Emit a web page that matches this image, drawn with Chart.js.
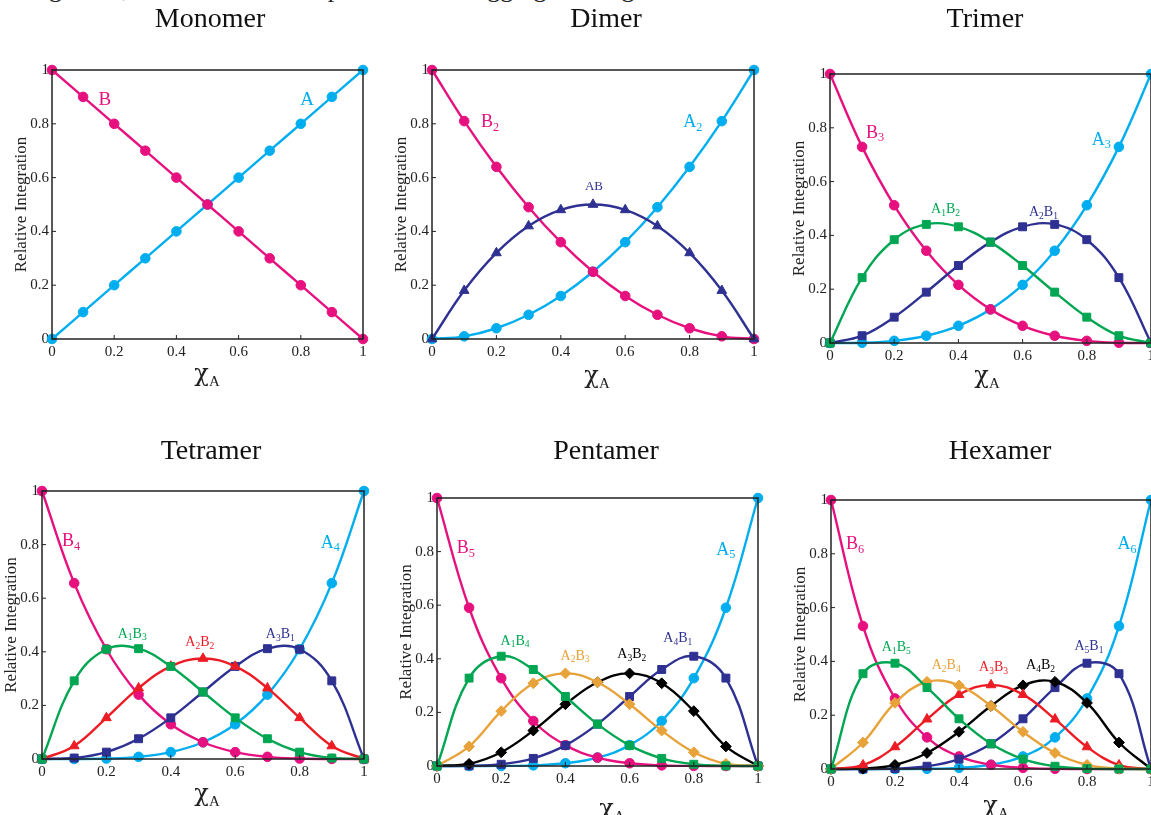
<!DOCTYPE html>
<html>
<head>
<meta charset="utf-8">
<script src="https://cdn.jsdelivr.net/npm/chart.js@4.4.1/dist/chart.umd.min.js"></script>
<style>
  html, body { margin: 0; padding: 0; background: #fff; }
  body { width: 1151px; height: 815px; overflow: hidden; position: relative; }
  canvas { position: absolute; left: 0; top: 0; }
  .lead { position: absolute; left: 0; top: -24px; font: 26px "Liberation Serif", serif; color: #222; white-space: nowrap; line-height: 1; }
</style>
</head>
<body>
<div class="lead">Using VT-1, the calculated Job plots for each aggregate are given.</div>
<canvas id="c1" width="1200" height="815"></canvas>
<canvas id="c2" width="1200" height="815"></canvas>
<canvas id="c3" width="1200" height="815"></canvas>
<canvas id="c4" width="1200" height="815"></canvas>
<canvas id="c5" width="1200" height="815"></canvas>
<canvas id="c6" width="1200" height="815"></canvas>
<script>
// mole fraction of A at which each composition is sampled
const moleFractionA = [0, 0.1, 0.2, 0.3, 0.4, 0.5, 0.6, 0.7, 0.8, 0.9, 1];
const axisTicks = [0, 0.2, 0.4, 0.6, 0.8, 1];
const axisTickLabels = ['0', '0.2', '0.4', '0.6', '0.8', '1'];

// Monomer
const monoA = [0, 0.1, 0.2, 0.3, 0.4, 0.5, 0.6, 0.7, 0.8, 0.9, 1];
const monoB = [1, 0.9, 0.8, 0.7, 0.6, 0.5, 0.4, 0.3, 0.2, 0.1, 0];

// Dimer
const diA2 = [0, 0.01, 0.04, 0.09, 0.16, 0.25, 0.36, 0.49, 0.64, 0.81, 1];
const diAB = [0, 0.18, 0.32, 0.42, 0.48, 0.5, 0.48, 0.42, 0.32, 0.18, 0];
const diB2 = [1, 0.81, 0.64, 0.49, 0.36, 0.25, 0.16, 0.09, 0.04, 0.01, 0];

// Trimer
const triA3 = [0, 0.001, 0.008, 0.027, 0.064, 0.125, 0.216, 0.343, 0.512, 0.729, 1];
const triA2B1 = [0, 0.027, 0.096, 0.189, 0.288, 0.375, 0.432, 0.441, 0.384, 0.243, 0];
const triA1B2 = [0, 0.243, 0.384, 0.441, 0.432, 0.375, 0.288, 0.189, 0.096, 0.027, 0];
const triB3 = [1, 0.729, 0.512, 0.343, 0.216, 0.125, 0.064, 0.027, 0.008, 0.001, 0];

// Tetramer
const tetA4 = [0, 0.0001, 0.0016, 0.0081, 0.0256, 0.0625, 0.1296, 0.2401, 0.4096, 0.6561, 1];
const tetA3B1 = [0, 0.0036, 0.0256, 0.0756, 0.1536, 0.25, 0.3456, 0.4116, 0.4096, 0.2916, 0];
const tetA2B2 = [0, 0.0486, 0.1536, 0.2646, 0.3456, 0.375, 0.3456, 0.2646, 0.1536, 0.0486, 0];
const tetA1B3 = [0, 0.2916, 0.4096, 0.4116, 0.3456, 0.25, 0.1536, 0.0756, 0.0256, 0.0036, 0];
const tetB4 = [1, 0.6561, 0.4096, 0.2401, 0.1296, 0.0625, 0.0256, 0.0081, 0.0016, 0.0001, 0];

// Pentamer
const penA5 = [0, 0.00001, 0.00032, 0.00243, 0.01024, 0.03125, 0.07776, 0.16807, 0.32768, 0.59049, 1];
const penA4B1 = [0, 0.00045, 0.0064, 0.02835, 0.0768, 0.15625, 0.2592, 0.36015, 0.4096, 0.32805, 0];
const penA3B2 = [0, 0.0081, 0.0512, 0.1323, 0.2304, 0.3125, 0.3456, 0.3087, 0.2048, 0.0729, 0];
const penA2B3 = [0, 0.0729, 0.2048, 0.3087, 0.3456, 0.3125, 0.2304, 0.1323, 0.0512, 0.0081, 0];
const penA1B4 = [0, 0.32805, 0.4096, 0.36015, 0.2592, 0.15625, 0.0768, 0.02835, 0.0064, 0.00045, 0];
const penB5 = [1, 0.59049, 0.32768, 0.16807, 0.07776, 0.03125, 0.01024, 0.00243, 0.00032, 0.00001, 0];

// Hexamer
const hexA6 = [0, 0.000001, 0.000064, 0.000729, 0.004096, 0.015625, 0.046656, 0.117649, 0.262144, 0.531441, 1];
const hexA5B1 = [0, 0.000054, 0.001536, 0.010206, 0.036864, 0.09375, 0.186624, 0.302526, 0.393216, 0.354294, 0];
const hexA4B2 = [0, 0.001215, 0.01536, 0.059535, 0.13824, 0.234375, 0.31104, 0.324135, 0.24576, 0.098415, 0];
const hexA3B3 = [0, 0.01458, 0.08192, 0.18522, 0.27648, 0.3125, 0.27648, 0.18522, 0.08192, 0.01458, 0];
const hexA2B4 = [0, 0.098415, 0.24576, 0.324135, 0.31104, 0.234375, 0.13824, 0.059535, 0.01536, 0.001215, 0];
const hexA1B5 = [0, 0.354294, 0.393216, 0.302526, 0.186624, 0.09375, 0.036864, 0.010206, 0.001536, 0.000054, 0];
const hexB6 = [1, 0.531441, 0.262144, 0.117649, 0.046656, 0.015625, 0.004096, 0.000729, 0.000064, 0.000001, 0];

// ---- styling ----
const SERIF = '"Liberation Serif", "DejaVu Serif", serif';
const GREEK = '"DejaVu Serif", serif';
const INK = '#222222';
const CANVAS_W = 1200, CANVAS_H = 815;
const PINK = '#E6117F', CYAN = '#00AEEF', NAVY = '#2E3192', GREEN = '#00A651',
      RED = '#ED1C24', GOLD = '#E8A23A', BLACK = '#000000';

const markerStyle = {
  circle:   { pointStyle: 'circle',   pointRadius: 4.8 },
  square:   { pointStyle: 'rect',     pointRadius: 5.6 },
  triangle: { pointStyle: 'triangle', pointRadius: 5.6 },
  diamond:  { pointStyle: 'rectRot',  pointRadius: 5.4 }
};

function series(values, color, marker) {
  return Object.assign({
    data: values.map((v, i) => ({ x: moleFractionA[i], y: v })),
    borderColor: color,
    backgroundColor: color,
    pointBackgroundColor: color,
    pointBorderColor: color,
    pointBorderWidth: 1,
    borderWidth: 2.4,
    tension: 0.4,
    clip: false,
    fill: false
  }, markerStyle[marker]);
}

// text with "_x" marking a subscript character, centred on (cx, cy)
function richText(ctx, str, cx, cy, size, color, subRatio, mainFamily) {
  const segs = [];
  for (let i = 0; i < str.length; i++) {
    if (str[i] === '_') { segs.push({ t: str[i + 1], sub: true }); i++; }
    else segs.push({ t: str[i], sub: false });
  }
  const subSize = size * (subRatio || 0.68);
  const fontOf = (s) => s.sub ? subSize + 'px ' + SERIF : size + 'px ' + (mainFamily || SERIF);
  let w = 0;
  segs.forEach(s => {
    ctx.font = fontOf(s);
    s.w = ctx.measureText(s.t).width;
    w += s.w;
  });
  let x = cx - w / 2;
  const base = cy + size * 0.33;
  ctx.fillStyle = color;
  ctx.textAlign = 'left';
  ctx.textBaseline = 'alphabetic';
  segs.forEach(s => {
    ctx.font = fontOf(s);
    ctx.fillText(s.t, x, s.sub ? base + size * 0.2 : base);
    x += s.w;
  });
}

function decorations(panel) {
  return {
    id: 'panelDecor',
    afterDatasetsDraw(chart) {
      const { ctx, chartArea: a, scales } = chart;
      ctx.save();
      // frame
      ctx.strokeStyle = INK;
      ctx.lineWidth = 1.5;
      ctx.strokeRect(a.left, a.top, a.right - a.left, a.bottom - a.top);
      // inward tick marks
      ctx.lineWidth = 1;
      axisTicks.forEach(v => {
        const px = scales.x.getPixelForValue(v);
        const py = scales.y.getPixelForValue(v);
        ctx.beginPath();
        ctx.moveTo(px, a.bottom); ctx.lineTo(px, a.bottom - 4);
        ctx.moveTo(a.left, py); ctx.lineTo(a.left + 4, py);
        ctx.stroke();
      });
      // panel title
      ctx.fillStyle = '#111';
      ctx.font = '28px ' + SERIF;
      ctx.textAlign = 'center';
      ctx.textBaseline = 'middle';
      ctx.fillText(panel.title, panel.titleAt[0], panel.titleAt[1]);
      // y-axis title
      ctx.save();
      ctx.translate(a.left - 30, (a.top + a.bottom) / 2);
      ctx.rotate(-Math.PI / 2);
      ctx.font = '17px ' + SERIF;
      ctx.fillStyle = INK;
      ctx.textAlign = 'center';
      ctx.textBaseline = 'middle';
      ctx.fillText('Relative Integration', 0, 0);
      ctx.restore();
      // x-axis title
      richText(ctx, 'χ_A', panel.xTitleAt[0], panel.xTitleAt[1], 24, INK, 0.62, GREEK);
      // series labels
      panel.labels.forEach(l => {
        richText(ctx, l.text, scales.x.getPixelForValue(l.x), scales.y.getPixelForValue(l.y), l.size, l.color);
      });
      ctx.restore();
    }
  };
}

const tickFormat = (v) => axisTickLabels[axisTicks.indexOf(Math.round(v * 10) / 10)];

function makePanel(id, panel, datasets) {
  const [L, T, R, B] = panel.box;
  new Chart(document.getElementById(id), {
    type: 'line',
    data: { datasets },
    options: {
      responsive: false,
      animation: false,
      events: [],
      layout: { autoPadding: false, padding: { left: L - 40, top: T, right: CANVAS_W - R, bottom: CANVAS_H - B - 40 } },
      scales: {
        x: {
          type: 'linear', min: 0, max: 1,
          afterFit(s) { s.height = 40; },
          afterBuildTicks(s) { s.ticks = axisTicks.map(v => ({ value: v })); },
          grid: { display: false, drawTicks: false, tickLength: 0 }, border: { display: false },
          ticks: {
            padding: 4, maxRotation: 0, autoSkip: false, color: INK,
            font: { family: SERIF, size: 15 }, callback: tickFormat
          }
        },
        y: {
          type: 'linear', min: 0, max: 1,
          afterFit(s) { s.width = 40; },
          afterBuildTicks(s) { s.ticks = axisTicks.map(v => ({ value: v })); },
          grid: { display: false, drawTicks: false, tickLength: 0 }, border: { display: false },
          ticks: {
            padding: 3, autoSkip: false, color: INK,
            font: { family: SERIF, size: 15 }, callback: tickFormat
          }
        }
      },
      plugins: { legend: { display: false }, tooltip: { enabled: false }, title: { display: false } }
    },
    plugins: [decorations(panel)]
  });
}

makePanel('c1', {
  box: [52, 70, 363, 339], title: 'Monomer', titleAt: [210, 20], xTitleAt: [207, 373],
  labels: [
    { text: 'B', x: 0.17, y: 0.895, size: 19, color: PINK },
    { text: 'A', x: 0.82, y: 0.895, size: 19, color: CYAN }
  ]
}, [series(monoB, PINK, 'circle'), series(monoA, CYAN, 'circle')]);

makePanel('c2', {
  box: [432, 70, 754, 339], title: 'Dimer', titleAt: [606, 20], xTitleAt: [597, 375],
  labels: [
    { text: 'B_2', x: 0.18, y: 0.81, size: 18, color: PINK },
    { text: 'A_2', x: 0.81, y: 0.81, size: 18, color: CYAN },
    { text: 'AB', x: 0.503, y: 0.57, size: 13, color: NAVY }
  ]
}, [series(diAB, NAVY, 'triangle'), series(diB2, PINK, 'circle'), series(diA2, CYAN, 'circle')]);

makePanel('c3', {
  box: [830, 74, 1151, 343], title: 'Trimer', titleAt: [985, 20], xTitleAt: [987, 375],
  labels: [
    { text: 'B_3', x: 0.14, y: 0.785, size: 18, color: PINK },
    { text: 'A_3', x: 0.845, y: 0.76, size: 18, color: CYAN },
    { text: 'A_1B_2', x: 0.36, y: 0.5, size: 14, color: GREEN },
    { text: 'A_2B_1', x: 0.665, y: 0.49, size: 14, color: NAVY }
  ]
}, [series(triA1B2, GREEN, 'square'), series(triA2B1, NAVY, 'square'),
    series(triB3, PINK, 'circle'), series(triA3, CYAN, 'circle')]);

makePanel('c4', {
  box: [42, 491, 364, 759], title: 'Tetramer', titleAt: [211, 452], xTitleAt: [207, 793],
  labels: [
    { text: 'B_4', x: 0.09, y: 0.817, size: 18, color: PINK },
    { text: 'A_4', x: 0.895, y: 0.81, size: 18, color: CYAN },
    { text: 'A_1B_3', x: 0.28, y: 0.47, size: 14, color: GREEN },
    { text: 'A_2B_2', x: 0.49, y: 0.44, size: 14, color: RED },
    { text: 'A_3B_1', x: 0.74, y: 0.467, size: 14, color: NAVY }
  ]
}, [series(tetA1B3, GREEN, 'square'), series(tetA2B2, RED, 'triangle'), series(tetA3B1, NAVY, 'square'),
    series(tetB4, PINK, 'circle'), series(tetA4, CYAN, 'circle')]);

makePanel('c5', {
  box: [437, 498, 758, 766], title: 'Pentamer', titleAt: [606, 452], xTitleAt: [612, 808],
  labels: [
    { text: 'B_5', x: 0.09, y: 0.817, size: 18, color: PINK },
    { text: 'A_5', x: 0.9, y: 0.81, size: 18, color: CYAN },
    { text: 'A_1B_4', x: 0.243, y: 0.47, size: 14, color: GREEN },
    { text: 'A_2B_3', x: 0.43, y: 0.414, size: 14, color: GOLD },
    { text: 'A_3B_2', x: 0.607, y: 0.42, size: 14, color: BLACK },
    { text: 'A_4B_1', x: 0.75, y: 0.48, size: 14, color: NAVY }
  ]
}, [series(penA1B4, GREEN, 'square'), series(penA2B3, GOLD, 'diamond'), series(penA3B2, BLACK, 'diamond'),
    series(penA4B1, NAVY, 'square'), series(penB5, PINK, 'circle'), series(penA5, CYAN, 'circle')]);

makePanel('c6', {
  box: [831, 500, 1151, 769], title: 'Hexamer', titleAt: [1000, 452], xTitleAt: [996, 805],
  labels: [
    { text: 'B_6', x: 0.075, y: 0.84, size: 18, color: PINK },
    { text: 'A_6', x: 0.925, y: 0.84, size: 18, color: CYAN },
    { text: 'A_1B_5', x: 0.204, y: 0.455, size: 14, color: GREEN },
    { text: 'A_2B_4', x: 0.36, y: 0.388, size: 14, color: GOLD },
    { text: 'A_3B_3', x: 0.508, y: 0.38, size: 14, color: RED },
    { text: 'A_4B_2', x: 0.655, y: 0.39, size: 14, color: BLACK },
    { text: 'A_5B_1', x: 0.806, y: 0.46, size: 14, color: NAVY }
  ]
}, [series(hexA1B5, GREEN, 'square'), series(hexA2B4, GOLD, 'diamond'), series(hexA3B3, RED, 'triangle'),
    series(hexA4B2, BLACK, 'diamond'), series(hexA5B1, NAVY, 'square'),
    series(hexB6, PINK, 'circle'), series(hexA6, CYAN, 'circle')]);
</script>
</body>
</html>
